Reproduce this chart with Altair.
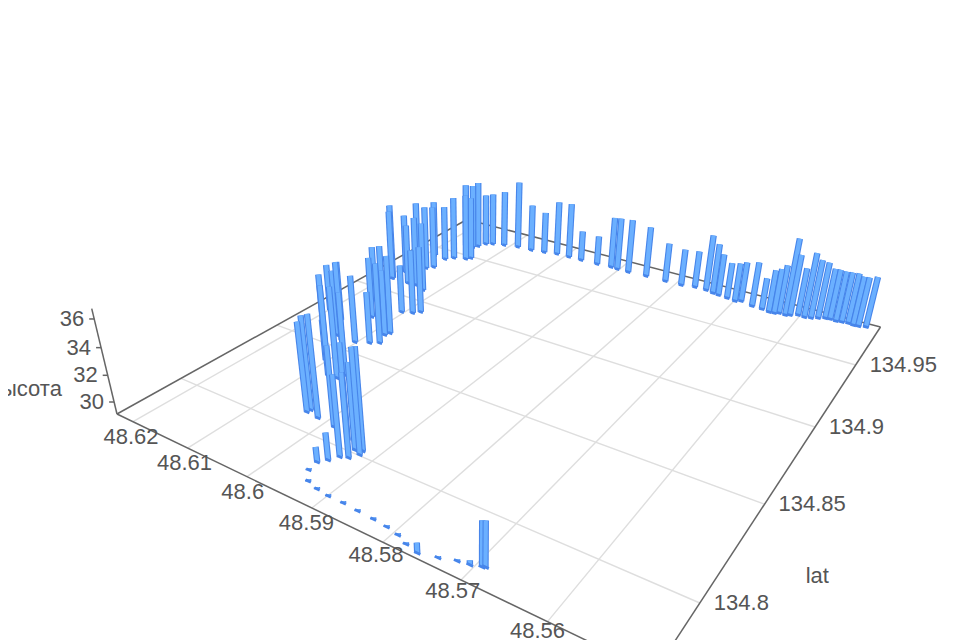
import altair as alt, pandas as pd

lat_offset=[6166,6151,6146,6133,6128,6140,6130,6111,6087,6061,6038,6016,5993,5970,5940,5915,5903,5883,5852,5818,5791,5770,5751,5738,5728,5713,5699,5691,5671,5655,5643,5635,5629,5619,5613,5603,5593,5584,5575,5566,5559,5550,5542,5533,5525,5518,5508,6152,6162,6186,6159,6167,6198,6122,6142,6088,6080,6157,6185,
6189,6190,6104,6131,6163,6165,6077,6071,6083,6080,6102,6163,6198,6035,6034,6014,6132,6137,6122,6073,6058,6054,6103,5984,5952,5937,5927,5931,5922,5920,5944,5952,5950,5936,5918,5899,5877,5855,5832,5812,5794,5778,5760,5738,5719,5705,5693,5690]
lon_offset=[9597,9596,9619,9464,9486,9660,9679,9699,9717,9722,9736,9751,9753,9755,9757,9764,9760,9760,9767,9767,9770,9786,9785,9774,9768,9763,9755,9769,9750,9747,9738,9740,9752,9749,9760,9779,9775,9783,9799,9815,9818,9814,9819,9824,9818,9821,9831,9442,9409,9419,
9309,9280,9329,9091,9114,8895,8921,9110,9195,9113,9110,8877,8772,8899,8953,8706,8620,8598,8682,8571,8680,8722,8095,8112,8088,8487,8574,8554,8323,8326,8358,8402,8078,8046,7959,7971,8016,8026,8004,7924,7896,7850,7806,7792,7785,7785,7781,7778,7773,7763,7745,7733,7750,7770,7777,7789,7794]
height=[34.6,34.7,34.9,34.8,34.5,33.6,33.7,34.0,35.0,33.2,32.7,33.8,33.9,31.7,31.6,33.5,33.6,33.7,33.4,32.4,32.2,32.2,33.8,33.3,32.6,32.1,32.3,32.4,32.8,31.7,32.6,32.8,33.1,35.4,34.1,33.0,34.4,33.9,33.7,33.2,33.2,33.2,33.2,33.2,33.1,33.1,33.2,
34.5,33.8,33.9,34.4,34.5,34.2,34.8,34.9,34.3,34.5,34.1,34.1,35.4,34.9,33.0,
34.0,33.6,33.3,35.3,35.4,33.2,34.3,34.4,33.9,32.9,35.7,36.0,36.6,
34.7,34.3,35.3,35.9,36.0,35.4,32.3,35.0,36.0,34.9,35.1,35.3,36.4,36.6,
31.1,30.2,29.2,29.2,29.2,29.2,29.2,29.2,29.2,29.2,29.2,29.2,29.8,29.2,29.2,29.4,32.2,32.2]
lat_ticks=[48.56,48.57,48.58,48.59,48.6,48.61,48.62]
lon_ticks=[134.8,134.85,134.9,134.95]
height_ticks=[30,32,34,36]

latitude=[48+v/1e4 for v in lat_offset]
longitude=[134+v/1e4 for v in lon_offset]

# perspective camera of the 3D scene
a,b,c,d,e,f,g,h=-488.1,801.2,654,-85.9,-132.6,673,.4182,.6527
Vx,Vy=477,1915
LAT0,LATK,LON0,LONK,Z0,ZK=48.549,.0741,134.7714,.215,29.08,.0122
def proj(lat,lon,z=Z0):
    s=(lat-LAT0)/LATK; t=(lon-LON0)/LONK
    q=-(z-Z0)*ZK
    W=g*s+h*t+1+q
    return (a*s+b*t+c+Vx*q)/W,(d*s+e*t+f+Vy*q)/W

rows=[]
def seg(p,r,col,w):
    rows.append(dict(x=p[0],y=p[1],x2=r[0],y2=r[1],c=col,w=w))
latmin,latmax=LAT0,LAT0+LATK
lonmin,lonmax=LON0,LON0+LONK
GRID='#dedede'; AX='#666666'; EDGE='#4785ea'; FACE='#6bb0ff'
for v in lat_ticks:
    seg(proj(v,lonmin),proj(v,lonmax),GRID,1.4)
for v in lon_ticks:
    seg(proj(latmin,v),proj(latmax,v),GRID,1.4)
seg(proj(latmax,lonmin),proj(latmax,lonmax),AX,1.5)
seg(proj(latmax,lonmax),proj(latmin,lonmax),AX,1.5)
seg(proj(latmin,lonmax),proj(latmin,lonmin),AX,1.5)
seg(proj(latmin,lonmin),proj(latmax,lonmin),AX,1.5)
seg(proj(latmax,lonmin),proj(latmax,lonmin,36.7),AX,1.5)
for v in height_ticks:
    p=proj(latmax,lonmin,v)
    seg(p,(p[0]-5,p[1]),AX,1.5)
bars=sorted(zip(latitude,longitude,height),key=lambda r:proj(r[0],r[1])[1])
for lt,ln,z in bars:
    b0=proj(lt,ln);t0=proj(lt,ln,z)
    seg(b0,t0,EDGE,6.4)
    seg(b0,t0,FACE,4.2)
    seg(proj(lt-.0004,ln),proj(lt+.0004,ln),EDGE,2.8)

texts=[]
for v in lat_ticks:
    p=proj(v,lonmin)
    k=(p[0]-133)/415
    texts.append(dict(x=p[0]-2-8*k,y=p[1]+15-10*max(0,k-.4),t=f'{v:g}',al='center'))
for v in lon_ticks:
    p=proj(latmin,v);texts.append(dict(x=p[0]+14,y=p[1],t=f'{v:g}',al='left'))
for v in height_ticks:
    p=proj(latmax,lonmin,v);texts.append(dict(x=p[0]-10,y=p[1],t=str(v),al='right'))
p=proj(latmin,134.825);texts.append(dict(x=p[0]+83,y=p[1]+26,t='lat',al='center'))
p=proj(latmax,lonmin,31);texts.append(dict(x=p[0]-49,y=p[1],t='высота',al='right'))

X=alt.X('x:Q',scale=alt.Scale(domain=[8,952],nice=False,zero=False),axis=None)
Y=alt.Y('y:Q',scale=alt.Scale(domain=[640,8],nice=False,zero=False),axis=None)
rule=alt.Chart(pd.DataFrame(rows)).mark_rule(clip=True,strokeCap='butt').encode(X,Y,x2='x2:Q',y2='y2:Q',color=alt.Color('c:N',scale=None),strokeWidth=alt.StrokeWidth('w:Q',scale=None))
tl=[]
for al in ['center','left','right']:
    tl.append(alt.Chart(pd.DataFrame([r for r in texts if r['al']==al])).mark_text(align=al,baseline='middle',font='Liberation Sans',fontSize=22,color='#555555',clip=True).encode(X,Y,text='t:N'))
chart=alt.layer(rule,*tl).properties(width=944,height=632,padding=0,autosize=alt.AutoSizeParams(type='none')).configure_view(stroke=None)
chart.save('out.html',embed_options={"renderer":"svg","actions":False})
